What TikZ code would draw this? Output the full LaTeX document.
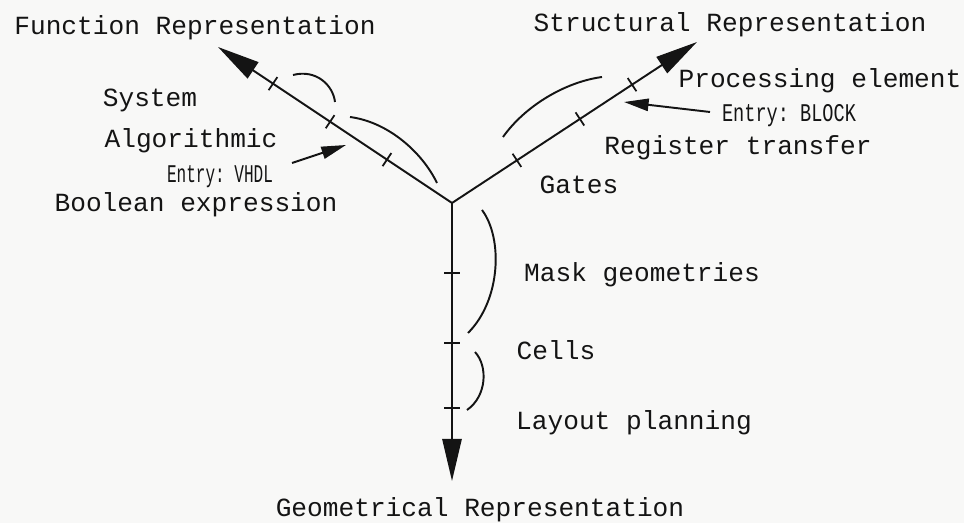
\documentclass[tikz,border=0pt]{standalone}
\usepackage{fontspec}
\usepackage{graphicx}
\setmonofont{Liberation Mono}
\usetikzlibrary{arrows.meta,calc}
\definecolor{bgc}{RGB}{248,248,247}
\definecolor{ink}{RGB}{20,20,20}
\newcommand\mytick[3]{\coordinate (tmp) at ($(#1)!#3!(#2)$);
  \draw[tickline] ($(tmp)!4.5pt!90:(#2)$) -- ($(tmp)!4.5pt!-90:(#2)$);}
\tikzset{
  axis/.style={draw=ink, line width=1.1pt, -{Triangle[length=24pt,width=11pt]}},
  tickline/.style={draw=ink, line width=1pt},
  brace/.style={draw=ink, line width=1.1pt},
  entryarrow/.style={draw=ink, line width=1.1pt, -{Triangle[length=14pt,width=7pt]}},
  lbl/.style={text=ink, inner sep=0pt, anchor=base, font=\ttfamily\fontsize{14.9pt}{17pt}\selectfont},
  small/.style={text=ink, inner sep=0pt, anchor=base, font=\ttfamily\fontsize{14.5pt}{17pt}\selectfont},
}
\begin{document}
\begin{tikzpicture}[x=0.02cm,y=-0.02cm]
\path[fill=bgc] (0,0) rectangle (964,523);
\useasboundingbox (0,0) rectangle (964,523);

\coordinate (c) at (452,203);
\coordinate (ftip) at (218,47);
\coordinate (stip) at (697,42);
\coordinate (gtip) at (452,481);

\draw[axis] (c) -- (ftip);
\draw[axis] (c) -- (stip);
\draw[axis] (c) -- (gtip);

\mytick{c}{ftip}{0.278}
\mytick{c}{ftip}{0.521}
\mytick{c}{ftip}{0.765}
\mytick{c}{stip}{0.265}
\mytick{c}{stip}{0.522}
\mytick{c}{stip}{0.735}
\mytick{c}{gtip}{0.2518}
\mytick{c}{gtip}{0.5036}
\mytick{c}{gtip}{0.7374}

% arcs
\draw[brace] (293,75) .. controls (316,69) and (333,85) .. (335,102);
\draw[brace] (350,117) .. controls (388,122) and (422,152) .. (437,183);
\draw[brace] (503,137) .. controls (525,106) and (565,82) .. (602,77);
\draw[brace] (482,210) .. controls (503,238) and (501,300) .. (468,333);
\draw[brace] (475,352) .. controls (488,366) and (487,396) .. (467,410);

% labels
\node[lbl] (frep) at (195,35) {Function Representation};
\node[lbl] (srep) at (730,32) {Structural Representation};
\node[lbl] (sys) at (150,107) {System};
\node[lbl] (alg) at (191,148) {Algorithmic};
\node[small] (vhdl) at (220,183) {\scalebox{0.63}[1]{Entry: VHDL}};
\node[lbl] (bool) at (196,212) {Boolean expression};
\node[lbl] (pe) at (820,88) {Processing element};
\node[small] (block) at (789,122) {\scalebox{0.73}[1]{Entry: BLOCK}};
\node[lbl] (rt) at (738,155) {Register transfer};
\node[lbl] (gates) at (579,194) {Gates};
\node[lbl] (mask) at (642,282) {Mask geometries};
\node[lbl] (cells) at (556,360) {Cells};
\node[lbl] (lay) at (634,430) {Layout planning};
\node[lbl] (grep) at (480,517) {Geometrical Representation};

% entry arrows
\coordinate (vs) at (292,163);
\coordinate (ve) at (346,145);
\coordinate (bs) at (710,112);
\coordinate (be) at (624,102);
\draw[entryarrow] (vs) -- (ve);
\draw[entryarrow] (bs) -- (be);
\end{tikzpicture}
\end{document}
